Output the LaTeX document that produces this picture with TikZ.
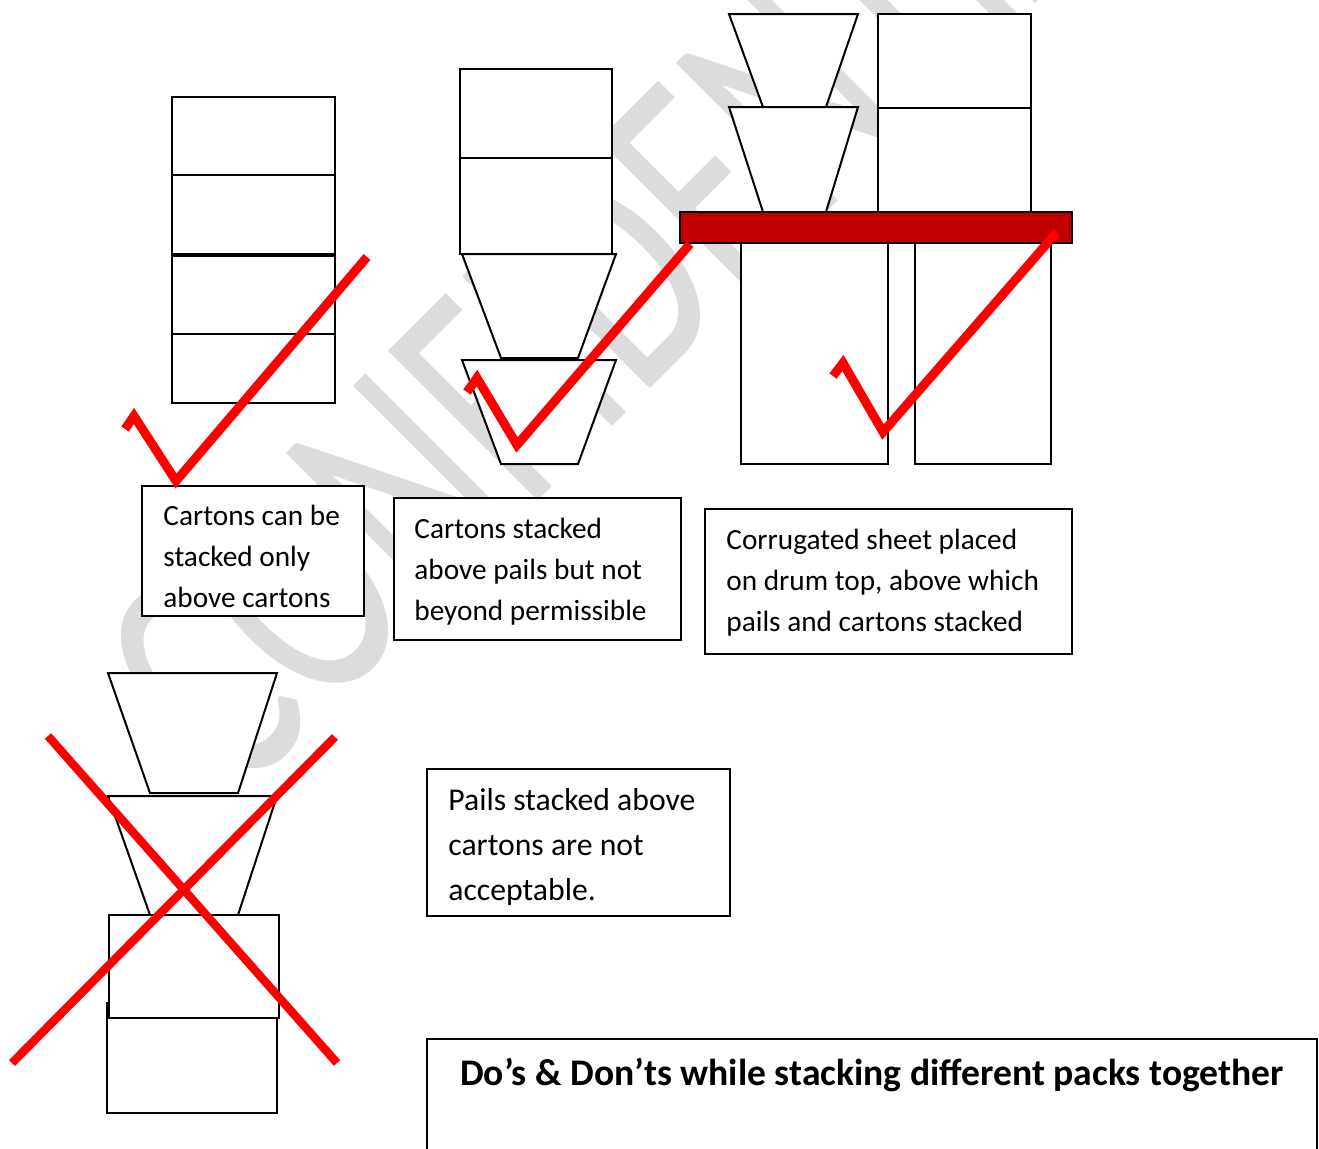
\documentclass[tikz,border=0pt]{standalone}
\usepackage{graphicx}
\usepackage{fontspec}
\setmainfont{Carlito}
\definecolor{wmgrey}{RGB}{220,220,220}
\definecolor{sheetred}{RGB}{192,0,0}
\definecolor{tickred}{RGB}{255,0,0}
\begin{document}
\begin{tikzpicture}[x=0.5pt,y=-0.5pt,
  outline/.style={draw=black,line width=1pt,fill=white,line join=miter},
  tickmark/.style={draw=tickred,line width=4.5pt,line join=miter,miter limit=10},
  crossline/.style={draw=tickred,line width=4.2pt},
  sheet/.style={draw=black,line width=1pt,fill=sheetred},
  body/.style={inner sep=0pt,align=left,font=\fontsize{14.65pt}{20.5pt}\selectfont},
  bodylarge/.style={inner sep=0pt,align=left,font=\fontsize{15.85pt}{22.5pt}\selectfont},
  heading/.style={inner sep=0pt,font=\fontsize{18.8pt}{22pt}\selectfont\bfseries},
  wmtext/.style={inner sep=0pt,text=wmgrey,font=\fontsize{165pt}{165pt}\selectfont}]
\useasboundingbox (0,0) rectangle (1319,1148);

% background watermark, condensed and turned along the diagonal
\node[wmtext,rotate=45,anchor=base west] (wm) at (236,803) {\scalebox{0.68}[1]{CONFIDENTIAL}};

% stack 1: cartons on cartons
\draw[outline] (172,97) rectangle (335,175);
\draw[outline] (172,175) rectangle (335,254);
\draw[outline] (172,256) rectangle (335,334);
\draw[outline] (172,334) rectangle (335,403);
\draw[outline] (142,486) rectangle (364,616);
\node[body,anchor=west] (t1) at (163,558) {\strut Cartons can be\\stacked only\\above cartons\strut};

% stack 2: cartons on pails
\draw[outline] (460,69) rectangle (612,158);
\draw[outline] (460,158) rectangle (612,254);
\draw[outline] (462,254) -- (616,254) -- (578,358) -- (501,358) -- cycle;
\draw[outline] (462,360) -- (616,360) -- (578,464) -- (501,464) -- cycle;
\draw[outline] (394,498) rectangle (681,640);
\node[body,anchor=west] (t2) at (414,571) {\strut Cartons stacked\\above pails but not\\beyond permissible\strut};

% stack 3: sheet on drums
\draw[outline] (729,14) -- (858,14) -- (826,107) -- (763,107) -- cycle;
\draw[outline] (729,107) -- (858,107) -- (826,212) -- (763,212) -- cycle;
\draw[outline] (878,14) rectangle (1031,108);
\draw[outline] (878,108) rectangle (1031,212);
\draw[outline] (741,243) rectangle (888,464);
\draw[outline] (915,243) rectangle (1051,464);
\draw[sheet] (680,212) rectangle (1072,243);
\draw[outline] (705,509) rectangle (1072,654);
\node[body,anchor=west] (t3) at (726,582) {\strut Corrugated sheet placed\\on drum top, above which\\pails and cartons stacked\strut};

% stack 4: pails on cartons
\draw[outline] (108,673) -- (277,673) -- (238,793) -- (150,793) -- cycle;
\draw[outline] (108,796) -- (277,796) -- (238,915) -- (150,915) -- cycle;
\draw[outline] (107,1003) rectangle (277,1113);
\draw[outline] (109,915) rectangle (279,1018);
\draw[outline] (427,769) rectangle (730,916);
\node[bodylarge,anchor=west] (t4) at (448,846) {\strut Pails stacked above\\cartons are not\\acceptable.\strut};

% title panel
\draw[outline] (427,1039) rectangle (1317,1180);
\node[heading,anchor=base] (title) at (872,1085) {Do’s \& Don’ts while stacking different packs together};

% check marks and cross
\draw[tickmark] (125,429) -- (134,416) -- (176,481) -- (367,257);
\draw[tickmark] (467,392) -- (477,378) -- (517,445) -- (690,244);
\draw[tickmark] (833,376) -- (843,363) -- (883,432) -- (1057,232);
\draw[crossline] (48,736) -- (337,1063);
\draw[crossline] (335,737) -- (12,1063);
\end{tikzpicture}
\end{document}
